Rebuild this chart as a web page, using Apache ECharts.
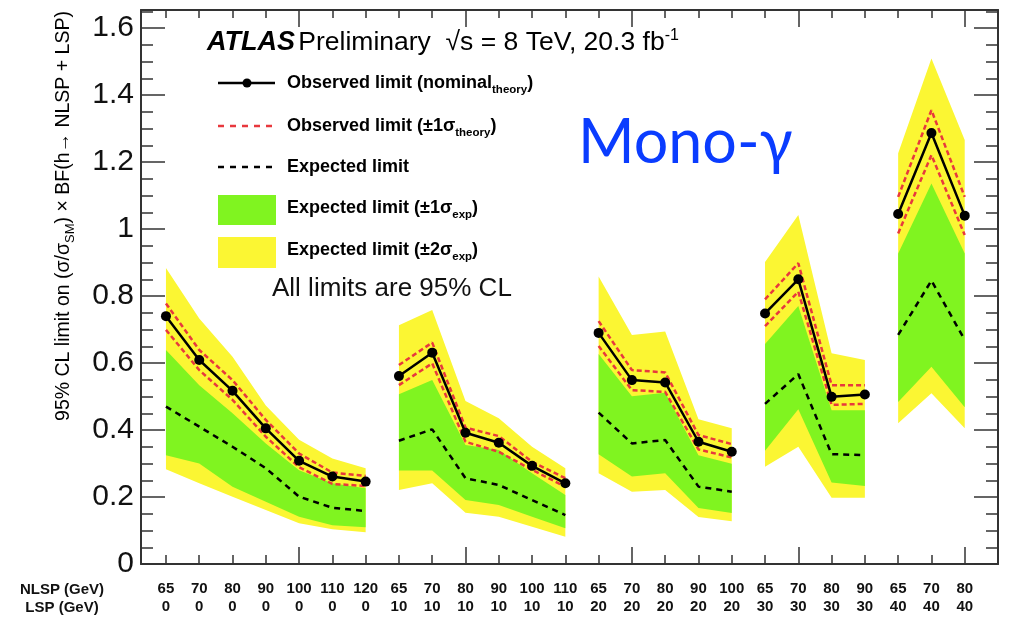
<!DOCTYPE html>
<html>
<head>
<meta charset="utf-8">
<script src="https://cdn.jsdelivr.net/npm/echarts/dist/echarts.min.js"></script>
<style>
  html, body { margin: 0; padding: 0; background: #fff; }
  #container { width: 1011px; height: 617px; }
</style>
</head>
<body>
<div id="container"></div>
<script>
// NLSP / LSP mass points (GeV)
var nlsp = [65, 70, 80, 90, 100, 110, 120, 65, 70, 80, 90, 100, 110, 65, 70, 80, 90, 100, 65, 70, 80, 90, 65, 70, 80];
var lsp  = [0, 0, 0, 0, 0, 0, 0, 10, 10, 10, 10, 10, 10, 20, 20, 20, 20, 20, 30, 30, 30, 30, 40, 40, 40];

// limits on sigma/sigma_SM x BF
var observed = [0.740, 0.609, 0.517, 0.405, 0.308, 0.261, 0.246, 0.561, 0.631, 0.392, 0.362, 0.293, 0.241,
                0.690, 0.549, 0.542, 0.365, 0.335, 0.748, 0.850, 0.499, 0.506, 1.045, 1.287, 1.040];
var obsUp    = [0.778, 0.639, 0.549, 0.430, 0.330, 0.273, 0.263, 0.594, 0.661, 0.407, 0.382, 0.305, 0.256,
                0.725, 0.579, 0.572, 0.385, 0.358, 0.790, 0.898, 0.534, 0.534, 1.096, 1.355, 1.096];
var obsDown  = [0.699, 0.579, 0.490, 0.380, 0.289, 0.239, 0.233, 0.534, 0.599, 0.365, 0.335, 0.281, 0.231,
                0.651, 0.519, 0.514, 0.342, 0.318, 0.710, 0.813, 0.475, 0.478, 0.987, 1.221, 0.982];
var expected = [0.470, 0.410, 0.350, 0.286, 0.201, 0.168, 0.158, 0.368, 0.402, 0.256, 0.236, 0.191, 0.146,
                0.452, 0.360, 0.370, 0.231, 0.216, 0.478, 0.567, 0.328, 0.325, 0.684, 0.846, 0.669];
var exp1Up   = [0.639, 0.534, 0.450, 0.360, 0.280, 0.241, 0.226, 0.507, 0.549, 0.355, 0.340, 0.271, 0.206,
                0.627, 0.501, 0.511, 0.325, 0.299, 0.657, 0.770, 0.459, 0.459, 0.927, 1.136, 0.927];
var exp1Down = [0.325, 0.300, 0.231, 0.186, 0.141, 0.116, 0.110, 0.279, 0.279, 0.191, 0.176, 0.141, 0.107,
                0.328, 0.261, 0.271, 0.167, 0.152, 0.338, 0.462, 0.243, 0.233, 0.484, 0.589, 0.468];
var exp2Up   = [0.884, 0.733, 0.619, 0.473, 0.371, 0.315, 0.286, 0.713, 0.758, 0.487, 0.435, 0.350, 0.286,
                0.858, 0.684, 0.694, 0.432, 0.405, 0.902, 1.042, 0.629, 0.609, 1.226, 1.509, 1.266];
var exp2Down = [0.283, 0.241, 0.201, 0.161, 0.122, 0.104, 0.095, 0.221, 0.241, 0.153, 0.141, 0.111, 0.081,
                0.271, 0.216, 0.221, 0.140, 0.128, 0.290, 0.350, 0.198, 0.198, 0.420, 0.510, 0.405];

var yTickLabels = [0, 0.2, 0.4, 0.6, 0.8, 1, 1.2, 1.4, 1.6];
var xMajorTicks = [5, 10, 15, 20, 25];

var FONT = 'Liberation Sans';
var FRAME = '#333';
var YELLOW = '#fbf633';
var GREEN = '#80f420';
var RED = '#e8383d';

// point i sits at x = i + 1, with a gap (null) between LSP groups
function build(arr) {
    var out = [];
    for (var i = 0; i < arr.length; i++) {
        if (i > 0 && lsp[i] !== lsp[i - 1]) out.push([i + 0.5, null]);
        out.push([i + 1, arr[i]]);
    }
    return out;
}

// index ranges of each LSP group
var groups = [];
lsp.forEach(function (v, i) {
    if (i === 0 || v !== lsp[i - 1]) groups.push({ from: i, to: i });
    else groups[groups.length - 1].to = i;
});

var xPoints = nlsp.map(function (v, i) { return i + 1; });
var yMinor = [];
for (var k = 0; k <= 33; k++) yMinor.push(+(k * 0.05).toFixed(2));

function xAx(pos, len, vals, showLine, label) {
    return {
        type: 'value', position: pos, min: 0.25, max: 26, z: 10,
        axisLine: { show: showLine, onZero: false, lineStyle: { color: FRAME, width: 2 } },
        axisTick: { show: true, inside: true, length: len, customValues: vals, lineStyle: { color: FRAME, width: 1.5 } },
        axisLabel: label || { show: false },
        splitLine: { show: false }
    };
}
function yAx(pos, len, vals, showLine, label) {
    return {
        type: 'value', position: pos, min: 0, max: 1.654, z: 10,
        axisLine: { show: showLine, onZero: false, lineStyle: { color: FRAME, width: 2 } },
        axisTick: { show: true, inside: true, length: len, customValues: vals, lineStyle: { color: FRAME, width: 1.5 } },
        axisLabel: label || { show: false },
        splitLine: { show: false }
    };
}

// +-2 sigma (yellow) and +-1 sigma (green) bands, one polygon pair per LSP group
function renderBands(params, api) {
    var g = groups[params.dataIndex];
    function poly(up, down) {
        var pts = [];
        for (var i = g.from; i <= g.to; i++) pts.push(api.coord([i + 1, up[i]]));
        for (var j = g.to; j >= g.from; j--) pts.push(api.coord([j + 1, down[j]]));
        return pts;
    }
    return {
        type: 'group',
        children: [
            { type: 'polygon', shape: { points: poly(exp2Up, exp2Down) }, style: { fill: YELLOW } },
            { type: 'polygon', shape: { points: poly(exp1Up, exp1Down) }, style: { fill: GREEN } }
        ]
    };
}

function limitLine(name, data, color, type, withDots) {
    return {
        name: name, type: 'line', data: build(data),
        symbol: withDots ? 'circle' : 'none', symbolSize: 10, showSymbol: !!withDots,
        itemStyle: { color: color },
        lineStyle: { color: color, width: 2.5, type: type },
        z: withDots ? 5 : 4, silent: true
    };
}

var richLegend = {
    b: { fontFamily: FONT, fontWeight: 'bold', fontSize: 18, lineHeight: 26, color: '#111' },
    s: { fontFamily: FONT, fontWeight: 'bold', fontSize: 11.5, lineHeight: 10, verticalAlign: 'bottom', color: '#111' }
};

var myChart = echarts.init(document.getElementById('container'));
var option = {
    animation: false,
    grid: { left: 141, right: 13, top: 10, bottom: 53 },
    xAxis: [
        xAx('bottom', 17, xMajorTicks, true, {
            show: true, customValues: xPoints, margin: 16,
            fontFamily: FONT, fontWeight: 'bold', fontSize: 15, lineHeight: 18, color: '#111',
            formatter: function (v) { return nlsp[v - 1] + '\n' + lsp[v - 1]; }
        }),
        xAx('bottom', 9, xPoints, false),
        xAx('top', 17, xMajorTicks, true),
        xAx('top', 8, xPoints, false)
    ],
    yAxis: [
        yAx('left', 24, yTickLabels, true, {
            show: true, customValues: yTickLabels, margin: 7,
            fontFamily: FONT, fontSize: 30, color: '#111'
        }),
        yAx('left', 12, yMinor, false),
        yAx('right', 24, yTickLabels, true),
        yAx('right', 12, yMinor, false)
    ],
    series: [
        {
            name: 'Expected limit bands', type: 'custom', renderItem: renderBands,
            data: groups.map(function (g) { return [g.from + 1, exp2Up[g.from]]; }),
            encode: { x: 0, y: 1 }, z: 1, silent: true
        },
        limitLine('Expected limit', expected, '#000', [6, 5], false),
        limitLine('Observed limit (+1σtheory)', obsUp, RED, [5, 3], false),
        limitLine('Observed limit (-1σtheory)', obsDown, RED, [5, 3], false),
        limitLine('Observed limit (nominal)', observed, '#000', 'solid', true)
    ],
    graphic: [
        // y axis title
        {
            type: 'text', x: 64, y: 216, rotation: Math.PI / 2, silent: true, z: 20,
            style: {
                text: '{m|95% CL limit on (σ/σ}{s|SM}{m|) × BF(h→ NLSP + LSP)}',
                align: 'center', verticalAlign: 'middle',
                rich: {
                    m: { fontFamily: FONT, fontSize: 19.5, lineHeight: 26, color: '#222' },
                    s: { fontFamily: FONT, fontSize: 13, lineHeight: 10, verticalAlign: 'bottom', color: '#222' }
                }
            }
        },
        // x axis row titles
        { type: 'text', x: 62, y: 590, silent: true, z: 20,
          style: { text: 'NLSP (GeV)', align: 'center', verticalAlign: 'middle', fontFamily: FONT, fontWeight: 'bold', fontSize: 15, fill: '#111' } },
        { type: 'text', x: 62, y: 608, silent: true, z: 20,
          style: { text: 'LSP (GeV)', align: 'center', verticalAlign: 'middle', fontFamily: FONT, fontWeight: 'bold', fontSize: 15, fill: '#111' } },
        // ATLAS label
        {
            type: 'text', x: 207, y: 43, silent: true, z: 20,
            style: {
                text: '{a|ATLAS} {p|Preliminary  √s = 8 TeV, 20.3 fb}{u|-1}',
                align: 'left', verticalAlign: 'middle',
                rich: {
                    a: { fontFamily: FONT, fontWeight: 'bold', fontStyle: 'italic', fontSize: 27, lineHeight: 30, color: '#111' },
                    p: { fontFamily: FONT, fontSize: 26.5, lineHeight: 30, color: '#111' },
                    u: { fontFamily: FONT, fontSize: 16, lineHeight: 16, verticalAlign: 'top', color: '#111' }
                }
            }
        },
        // legend: observed
        { type: 'line', silent: true, z: 20, shape: { x1: 218, y1: 83, x2: 275, y2: 83 }, style: { stroke: '#000', lineWidth: 2.5 } },
        { type: 'circle', silent: true, z: 20, shape: { cx: 247, cy: 83, r: 4.5 }, style: { fill: '#000' } },
        { type: 'text', x: 287, y: 83, silent: true, z: 20,
          style: { text: '{b|Observed limit (nominal}{s|theory}{b|)}', rich: richLegend, verticalAlign: 'middle' } },
        // legend: observed +-1 sigma theory
        { type: 'line', silent: true, z: 20, shape: { x1: 218, y1: 126, x2: 275, y2: 126 }, style: { stroke: RED, lineWidth: 2.5, lineDash: [6, 6] } },
        { type: 'text', x: 287, y: 126, silent: true, z: 20,
          style: { text: '{b|Observed limit (±1σ}{s|theory}{b|)}', rich: richLegend, verticalAlign: 'middle' } },
        // legend: expected
        { type: 'line', silent: true, z: 20, shape: { x1: 218, y1: 167, x2: 275, y2: 167 }, style: { stroke: '#000', lineWidth: 2.5, lineDash: [6, 6] } },
        { type: 'text', x: 287, y: 167, silent: true, z: 20,
          style: { text: '{b|Expected limit}', rich: richLegend, verticalAlign: 'middle' } },
        // legend: bands
        { type: 'rect', silent: true, z: 20, shape: { x: 218, y: 195, width: 58, height: 30 }, style: { fill: GREEN } },
        { type: 'text', x: 287, y: 208, silent: true, z: 20,
          style: { text: '{b|Expected limit (±1σ}{s|exp}{b|)}', rich: richLegend, verticalAlign: 'middle' } },
        { type: 'rect', silent: true, z: 20, shape: { x: 218, y: 237, width: 58, height: 31 }, style: { fill: YELLOW } },
        { type: 'text', x: 287, y: 250, silent: true, z: 20,
          style: { text: '{b|Expected limit (±2σ}{s|exp}{b|)}', rich: richLegend, verticalAlign: 'middle' } },
        { type: 'text', x: 272, y: 289, silent: true, z: 20,
          style: { text: 'All limits are 95% CL', verticalAlign: 'middle', fontFamily: FONT, fontSize: 26, fill: '#111' } },
        // channel tag
        { type: 'text', x: 578, y: 143, silent: true, z: 20,
          style: { text: 'Mono-γ', verticalAlign: 'middle', fontFamily: 'Lato', fontSize: 61, fill: '#0a3cff' } }
    ]
};
myChart.setOption(option, true);
window.onresize = function () {
    myChart.resize();
};
</script>
</body>
</html>
